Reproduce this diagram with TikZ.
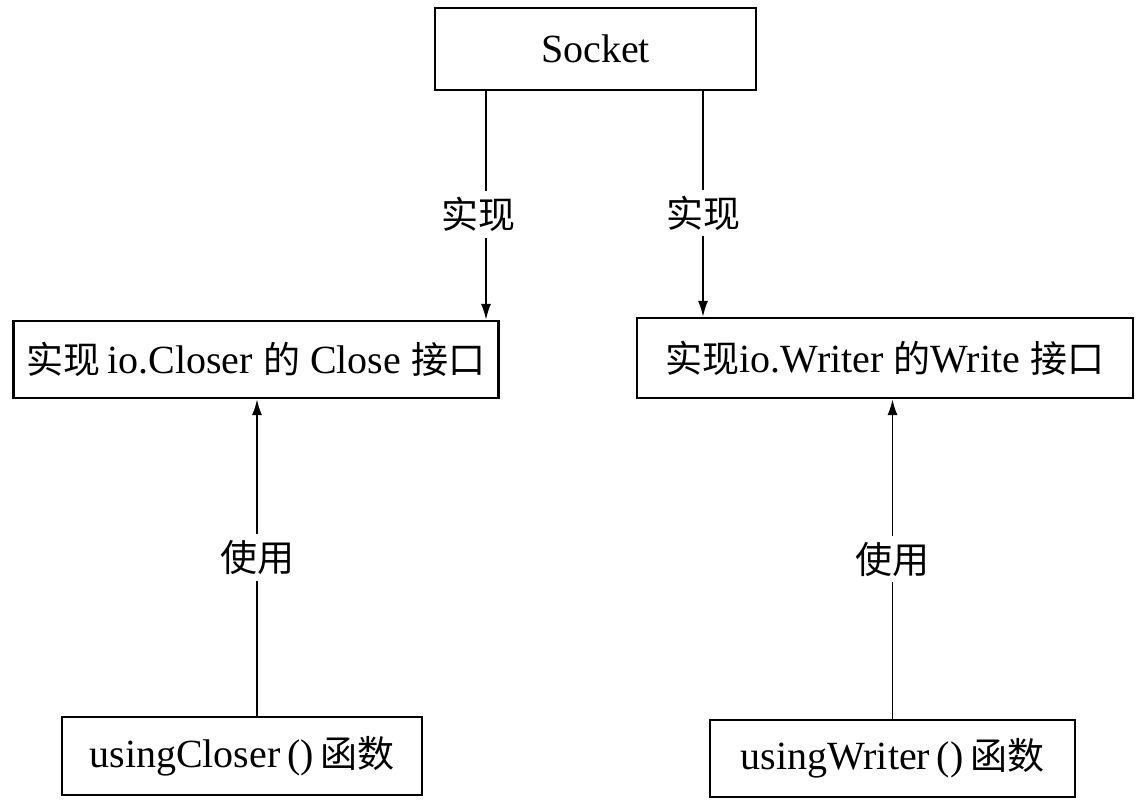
\documentclass[tikz,border=0pt]{standalone}
\usepackage{fontspec}
\setmainfont{Liberation Serif}
\newfontfamily\cjk{Noto Sans CJK SC}
\usetikzlibrary{arrows.meta}
\newcommand{\zh}[1]{{\cjk\fontsize{18.5}{20}\selectfont #1}}
\tikzset{
  box/.style={draw, line width=1.1pt, inner sep=0pt, font=\fontsize{20}{24}\selectfont},
  arr/.style={line width=0.9pt, -{Latex[length=8pt,width=5pt]}},
  lab/.style={fill=white, inner sep=3pt, font=\fontsize{20}{24}\selectfont},
}

\begin{document}
\begin{tikzpicture}[x=0.5pt,y=0.5pt,yscale=-1]
\useasboundingbox (0,0) rectangle (1144,804);

% Boxes
\node[box, minimum width=160.5pt, minimum height=41pt] (sock) at (595.5,49) {Socket};
\node[box, minimum width=242.5pt, minimum height=38.5pt] (cmid) at (256,359.5) {\zh{实现}\,io.Closer \zh{的} Close \zh{接口}};
\node[box, minimum width=248pt, minimum height=40pt] (wmid) at (885,358) {\zh{实现}io.Writer \zh{的}Write \zh{接口}};
\node[box, minimum width=180pt, minimum height=39pt] (cbot) at (242,756) {usingCloser\,()\,\zh{函数}};
\node[box, minimum width=182.5pt, minimum height=38.5pt] (wbot) at (892.5,758.5) {usingWriter\,()\,\zh{函数}};

% Arrow start points
\coordinate (s1) at ([xshift=-54.75pt]sock.south);
\coordinate (s2) at ([xshift=53.75pt]sock.south);
\coordinate (u1) at ([xshift=7.5pt]cbot.north);
\coordinate (u2) at (wbot.north);

% Arrows
\draw[arr] (s1) -- (s1 |- cmid.north) node[lab, pos=0.54, xshift=-4pt] (r1) {\zh{实现}};
\draw[arr] (s2) -- (s2 |- wmid.north) node[lab, pos=0.54] (r2) {\zh{实现}};
\draw[arr] (u1) -- (u1 |- cmid.south) node[lab, pos=0.5] (y1) {\zh{使用}};
\draw[arr] (u2) -- (u2 |- wmid.south) node[lab, pos=0.5] (y2) {\zh{使用}};

\end{tikzpicture}
\end{document}
